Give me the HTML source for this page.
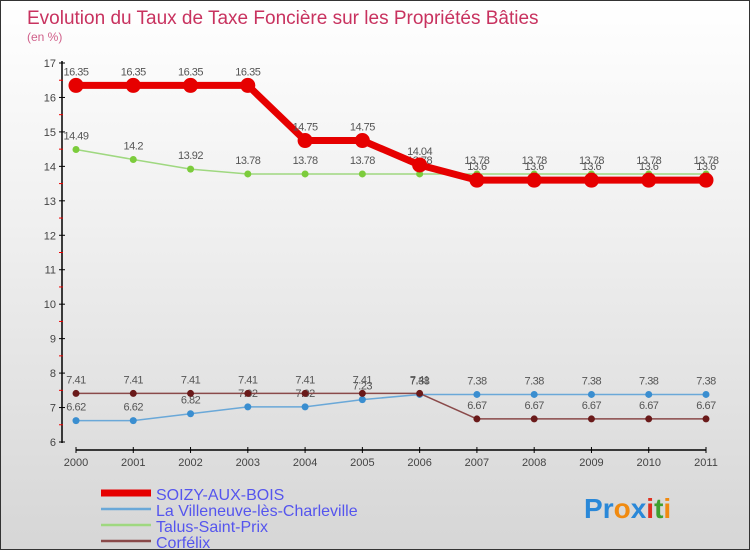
<!DOCTYPE html>
<html><head><meta charset="utf-8"><style>
body{margin:0;}
#c{position:relative;width:750px;height:550px;box-sizing:border-box;border:1px solid #333;background:linear-gradient(#ffffff 0%,#f0f0f0 40%,#d6d6d6 100%);font-family:"Liberation Sans",sans-serif;overflow:hidden}
svg text{font-family:"Liberation Sans",sans-serif}
</style></head><body>
<div id="c">
<svg id="s" width="750" height="550">
<text x="26" y="23" font-size="19" fill="#c8325f">Evolution du Taux de Taxe Foncière sur les Propriétés Bâties</text>
<text x="26" y="40" font-size="12" fill="#d0608a">(en %)</text>
</svg>
</div>
<script>
const years=[2000,2001,2002,2003,2004,2005,2006,2007,2008,2009,2010,2011];
const soizy=[16.35,16.35,16.35,16.35,14.75,14.75,14.04,13.6,13.6,13.6,13.6,13.6];
const villeneuve=[6.62,6.62,6.82,7.02,7.02,7.23,7.38,7.38,7.38,7.38,7.38,7.38];
const talus=[14.49,14.2,13.92,13.78,13.78,13.78,13.78,13.78,13.78,13.78,13.78,13.78];
const corfelix=[7.41,7.41,7.41,7.41,7.41,7.41,7.41,6.67,6.67,6.67,6.67,6.67];
const yTicks=[6,7,8,9,10,11,12,13,14,15,16,17];
const legendNames=["SOIZY-AUX-BOIS","La Villeneuve-lès-Charleville","Talus-Saint-Prix","Corfélix"];

const s=document.getElementById('s');const NS='http://www.w3.org/2000/svg';
const X=i=>75+i*(630/(years.length-1));
const Y=v=>441-(v-6)*(379/11);
function el(t,a,p){const e=document.createElementNS(NS,t);for(const k in a)e.setAttribute(k,a[k]);(p||s).appendChild(e);return e;}
let ax=el('line',{x1:61,y1:60,x2:61,y2:442,stroke:'#000','stroke-width':1.5});


let bx=el('line',{x1:75,y1:449,x2:705,y2:449,stroke:'#000','stroke-width':1.5});


yTicks.forEach((v,i)=>{
  el('line',{x1:58,y1:Y(v),x2:64,y2:Y(v),stroke:'#000'});
  if(i<yTicks.length-1)el('line',{x1:58,y1:Y(v+0.5),x2:62,y2:Y(v+0.5),stroke:'#e00'});
  const t=el('text',{x:55,y:Y(v)+4,'font-size':11,fill:'#444','text-anchor':'end'});t.textContent=v;
  
  
});
years.forEach((y,i)=>{
  el('line',{x1:X(i),y1:446,x2:X(i),y2:452,stroke:'#000'});
  const t=el('text',{x:X(i),y:465,'font-size':11,fill:'#444','text-anchor':'middle'});t.textContent=y;
  
  
});
function series(data,color,w,r,dot,name,labelDy){
  const g=el('g',{});
  
  
  el('polyline',{points:data.map((v,i)=>X(i)+','+Y(v)).join(' '),fill:'none',stroke:color,'stroke-width':w,'stroke-linejoin':'round'},g);
  data.forEach((v,i)=>{
    const c=el('circle',{cx:X(i),cy:Y(v),r:r,fill:dot},g);
    
    
    const t=el('text',{x:X(i),y:Y(v)+labelDy,'font-size':11,fill:'#555','text-anchor':'middle','letter-spacing':'-0.5'},g);t.textContent=v;
  });
}
series(talus,'#9fd880',1.5,3.5,'#7ccc3c','series-talus',-10);
series(villeneuve,'#6aa8d8',1.5,3.5,'#3a8ed0','series-villeneuve',-10);
series(corfelix,'#8a4a4a',1.5,3.5,'#6a1a1a','series-corfelix',-10);
series(soizy,'#e60000',7,7.5,'#e60000','series-soizy',-10);
const lc=['#e60000','#6aa8d8','#9fd880','#8a4a4a'],lw=[7,2.5,2.5,2.5];
legendNames.forEach((n,i)=>{
  const y=492+i*16;
  const l=el('line',{x1:100,y1:y,x2:150,y2:y,stroke:lc[i],'stroke-width':lw[i]});
  
  
  const t=el('text',{x:155,y:y+7,'font-size':16,fill:'#5555ee'});t.textContent=n;
  
  
});
const lg=el('text',{x:583,y:517,'font-size':28,'font-weight':'bold'});


[['P','#2a88d8'],['r','#2a88d8'],['o','#f08a10'],['x','#2a88d8'],['i','#e03020'],['t','#40a030'],['i','#f08a10']].forEach(([c,f])=>{const sp=el('tspan',{fill:f},lg);sp.textContent=c;});
</script>
</body></html>
